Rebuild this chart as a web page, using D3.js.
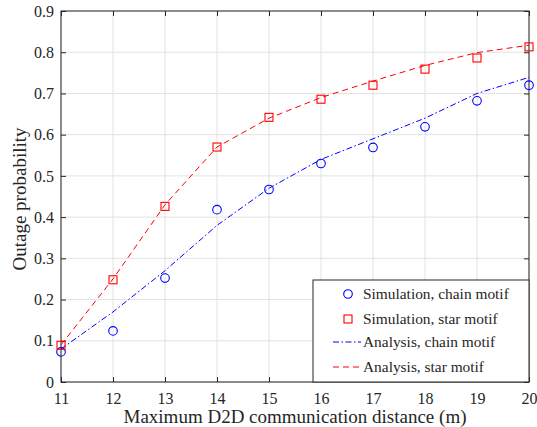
<!DOCTYPE html>
<html>
<head>
<meta charset="utf-8">
<script src="https://cdn.jsdelivr.net/npm/d3@7"></script>
<style>
  body { margin: 0; background: #fff; }
  svg text { font-family: "Liberation Serif", "Times New Roman", Times, serif; fill: #262626; }
</style>
</head>
<body>
<div id="chart"></div>
<script>
// data
const distances = [11, 12, 13, 14, 15, 16, 17, 18, 19, 20];
const simChain = [0.073, 0.124, 0.252, 0.418, 0.467, 0.53, 0.569, 0.619, 0.682, 0.72];
const simStar = [0.089, 0.248, 0.426, 0.57, 0.642, 0.686, 0.72, 0.759, 0.786, 0.813];
const anaChain = [0.08, 0.17, 0.27, 0.38, 0.47, 0.54, 0.59, 0.64, 0.70, 0.739];
const anaStar = [0.09, 0.25, 0.43, 0.57, 0.64, 0.69, 0.73, 0.768, 0.799, 0.817];
const yTicks = [0, 0.1, 0.2, 0.3, 0.4, 0.5, 0.6, 0.7, 0.8, 0.9];

const width = 537, height = 427;
const margin = { top: 11, right: 8, bottom: 45, left: 61 };
const innerW = width - margin.left - margin.right;
const innerH = height - margin.top - margin.bottom;
const serif = "'Liberation Serif', 'Times New Roman', Times, serif";

const svg = d3.select("#chart").append("svg")
  .attr("width", width)
  .attr("height", height)
  .attr("font-family", serif);

const g = svg.append("g")
  .attr("transform", `translate(${margin.left},${margin.top})`);

const x = d3.scaleLinear().domain([11, 20]).range([0, innerW]);
const y = d3.scaleLinear().domain([0, 0.9]).range([innerH, 0]);

// grid
g.append("g").selectAll("line.gx")
  .data(distances)
  .enter().append("line")
  .attr("x1", d => x(d)).attr("x2", d => x(d))
  .attr("y1", 0).attr("y2", innerH)
  .attr("stroke", "#e2e2e2").attr("stroke-width", 1);
g.append("g").selectAll("line.gy")
  .data(yTicks)
  .enter().append("line")
  .attr("x1", 0).attr("x2", innerW)
  .attr("y1", d => y(d)).attr("y2", d => y(d))
  .attr("stroke", "#e2e2e2").attr("stroke-width", 1);

// axes (ticks inside, box on all sides)
const axisColor = "#262626";
function styleAxis(sel) {
  sel.attr("font-family", serif);
  sel.select(".domain").remove();
  sel.selectAll("line").attr("stroke", axisColor);
  sel.selectAll("text")
    .style("font-size", "16px")
    .attr("fill", axisColor);
}

g.append("g")
  .attr("transform", `translate(0,${innerH})`)
  .call(d3.axisBottom(x).tickValues(distances).tickSizeInner(-5).tickSizeOuter(0).tickPadding(11).tickFormat(d3.format("d")))
  .call(styleAxis);
g.append("g")
  .call(d3.axisTop(x).tickValues(distances).tickSizeInner(-5).tickSizeOuter(0).tickFormat(""))
  .call(styleAxis);
g.append("g")
  .call(d3.axisLeft(y).tickValues(yTicks).tickSizeInner(-5).tickSizeOuter(0).tickPadding(7).tickFormat(d => d === 0 ? "0" : d3.format(".1f")(d)))
  .call(styleAxis);
g.append("g")
  .attr("transform", `translate(${innerW},0)`)
  .call(d3.axisRight(y).tickValues(yTicks).tickSizeInner(-5).tickSizeOuter(0).tickFormat(""))
  .call(styleAxis);

g.append("rect")
  .attr("x", 0).attr("y", 0)
  .attr("width", innerW).attr("height", innerH)
  .attr("fill", "none")
  .attr("stroke", axisColor)
  .attr("stroke-width", 1);

// lines
const line = d3.line()
  .x((d, i) => x(distances[i]))
  .y(d => y(d));

g.append("path")
  .datum(anaChain)
  .attr("d", line)
  .attr("fill", "none")
  .attr("stroke", "#0000ff")
  .attr("stroke-width", 1)
  .attr("stroke-dasharray", "6,2.5,1.5,2.5");

g.append("path")
  .datum(anaStar)
  .attr("d", line)
  .attr("fill", "none")
  .attr("stroke", "#ff0000")
  .attr("stroke-width", 1)
  .attr("stroke-dasharray", "6,4");

// markers
g.selectAll("circle.sim")
  .data(simChain)
  .enter().append("circle")
  .attr("cx", (d, i) => x(distances[i]))
  .attr("cy", d => y(d))
  .attr("r", 4.3)
  .attr("fill", "none")
  .attr("stroke", "#0000ff")
  .attr("stroke-width", 1.1);

g.selectAll("rect.sim")
  .data(simStar)
  .enter().append("rect")
  .attr("x", (d, i) => x(distances[i]) - 4)
  .attr("y", d => y(d) - 4)
  .attr("width", 8)
  .attr("height", 8)
  .attr("fill", "none")
  .attr("stroke", "#ff0000")
  .attr("stroke-width", 1.1);

// legend
const legendItems = [
  { label: "Simulation, chain motif", type: "circle", color: "#0000ff" },
  { label: "Simulation, star motif", type: "square", color: "#ff0000" },
  { label: "Analysis, chain motif", type: "line", color: "#0000ff", dash: "6,2.5,1.5,2.5" },
  { label: "Analysis, star motif", type: "line", color: "#ff0000", dash: "6,4" }
];
const legW = 216, legH = 102;
const legend = g.append("g")
  .attr("transform", `translate(${innerW - legW},${innerH - legH})`);
legend.append("rect")
  .attr("width", legW).attr("height", legH)
  .attr("fill", "#fff")
  .attr("stroke", axisColor)
  .attr("stroke-width", 1);

const rowY = [14, 39, 62, 87];
legend.selectAll("g.item")
  .data(legendItems)
  .enter().append("g")
  .attr("transform", (d, i) => `translate(0,${rowY[i]})`)
  .each(function(d) {
    const item = d3.select(this);
    if (d.type === "circle") {
      item.append("circle").attr("cx", 35).attr("cy", 0).attr("r", 4.3)
        .attr("fill", "none").attr("stroke", d.color).attr("stroke-width", 1.1);
    } else if (d.type === "square") {
      item.append("rect").attr("x", 31).attr("y", -4).attr("width", 8).attr("height", 8)
        .attr("fill", "none").attr("stroke", d.color).attr("stroke-width", 1.1);
    } else {
      item.append("line").attr("x1", 20).attr("x2", 48).attr("y1", 0).attr("y2", 0)
        .attr("stroke", d.color).attr("stroke-width", 1).attr("stroke-dasharray", d.dash);
    }
    item.append("text")
      .attr("x", 50)
      .attr("y", 5)
      .style("font-size", "15.4px")
      .text(d.label);
  });

// axis titles
svg.append("text")
  .attr("x", margin.left + innerW / 2)
  .attr("y", 423)
  .attr("text-anchor", "middle")
  .style("font-size", "19px")
  .text("Maximum D2D communication distance (m)");

svg.append("text")
  .attr("transform", `translate(26,199) rotate(-90)`)
  .attr("text-anchor", "middle")
  .style("font-size", "19px")
  .text("Outage probability");
</script>
</body>
</html>
